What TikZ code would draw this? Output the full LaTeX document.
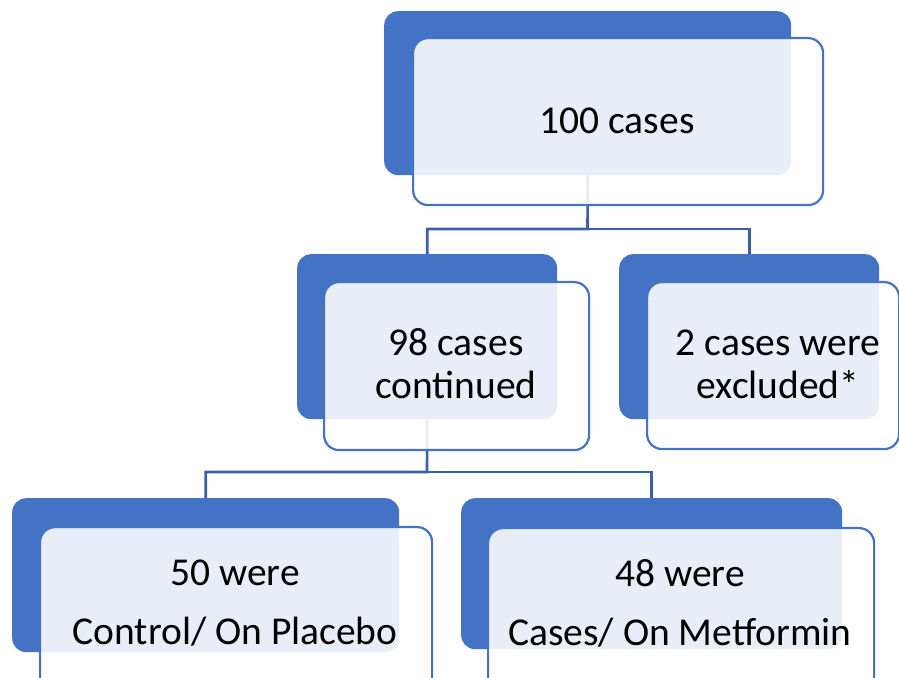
\documentclass[tikz,border=0pt]{standalone}
\usepackage{fontspec}
\setmainfont{Carlito}
\definecolor{sablue}{RGB}{68,114,196}
\definecolor{conncol}{RGB}{58,96,170}
\tikzset{
  backbox/.style={draw=none, fill=sablue, rounded corners=14pt, minimum width=#1, inner sep=0pt, anchor=north west},
  frontbox/.style={draw=sablue, line width=2.2pt, fill=white, fill opacity=0.88, rounded corners=15pt, inner sep=0pt, anchor=north west},
  conn/.style={draw=conncol, line width=2.6pt},
  lbl/.style={font=\fontsize{39.5}{43}\selectfont, align=center, text=black, inner sep=0pt, anchor=center}
}
\begin{document}
\begin{tikzpicture}[x=1pt,y=1pt]
\useasboundingbox (0,0) rectangle (899,677);
\clip (0,0) rectangle (899,677);
% back boxes
\node[backbox=407pt, minimum height=164pt] (tb) at (384,666) {};
\node[backbox=260pt, minimum height=165pt] (mlb) at (297,423) {};
\node[backbox=260pt, minimum height=165pt] (mrb) at (619,423) {};
\node[backbox=387pt, minimum height=154pt] (blb) at (12,179) {};
\node[backbox=381pt, minimum height=151pt] (brb) at (461,179) {};
% connectors
\coordinate (j1) at (587.5,448);
\coordinate (j2) at (427,205);
\draw[conn] (tb.south) -- (j1) -| (mlb.north);
\draw[conn] (j1) -| (mrb.north);
\draw[conn] (mlb.south) -- (j2) -| (blb.north);
\draw[conn] (j2) -| (brb.north);
% front boxes
\node[frontbox, minimum width=410pt, minimum height=167pt] (tf) at (412,640) {};
\node[frontbox, minimum width=265pt, minimum height=168pt] (mlf) at (323,396) {};
\node[frontbox, minimum width=252pt, minimum height=167pt] (mrf) at (646,396) {};
\node[frontbox, minimum width=392pt, minimum height=168pt] (blf) at (39,151) {};
\node[frontbox, minimum width=386pt, minimum height=167pt] (brf) at (487,150) {};
% labels
\node[lbl] (tl) at (617,556.5) {100 cases};
\node[lbl] (mll) at (456,313) {98 cases\\continued};
\node[lbl] (mrl) at (778,313) {2 cases were\\excluded*};
\node[lbl] (bll) at (235,74) {50 were\\[16pt]Control/ On Placebo};
\node[lbl] (brl) at (680,74) {48 were\\[16pt]Cases/ On Metformin};
\end{tikzpicture}
\end{document}
